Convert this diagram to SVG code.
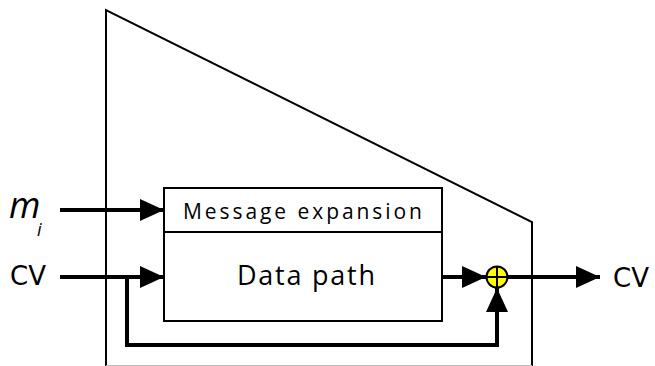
<svg xmlns="http://www.w3.org/2000/svg" width="655" height="366" viewBox="0 0 655 366">
  <style>
    .outline { fill: none; stroke: #000; stroke-width: 2; }
    .box { fill: #fff; stroke: #000; stroke-width: 2; }
    .wire { fill: none; stroke: #000; stroke-width: 4; }
    .lbl { font-family: "Open Sans", "DejaVu Sans", sans-serif; fill: #000; }
    .io { font-family: "DejaVu Sans", "Open Sans", sans-serif; fill: #000; }
  </style>
  <defs>
    <marker id="arrow" viewBox="0 0 10 10" refX="10" refY="5" markerWidth="6" markerHeight="5.5" markerUnits="strokeWidth" orient="auto" preserveAspectRatio="none">
      <path d="M0,0 L10,5 L0,10 Z" fill="#000"/>
    </marker>
  </defs>

  <!-- enclosing trapezoid -->
  <g id="enclosure">
    <polyline class="outline" points="106,366 106,10 532,222 532,366"/>
    <line x1="106" y1="365.5" x2="532" y2="365.5" stroke="#bbb" stroke-width="1"/>
  </g>

  <!-- input labels -->
  <g id="in-m">
    <text class="lbl" x="9" y="218" font-size="36" font-style="italic">m</text>
    <text class="lbl" x="37" y="236" font-size="18" font-style="italic">i</text>
  </g>
  <g id="in-cv">
    <text class="io" x="10" y="285" font-size="26">CV</text>
  </g>

  <!-- main block -->
  <g id="block">
    <rect class="box" x="164" y="188" width="278" height="133"/>
    <line x1="164" y1="232" x2="442" y2="232" stroke="#000" stroke-width="2"/>
    <text class="lbl" x="183" y="219" font-size="21" textLength="239" lengthAdjust="spacing">Message expansion</text>
    <text class="lbl" x="237" y="285" font-size="27" textLength="138" lengthAdjust="spacing">Data path</text>
  </g>

  <!-- XOR -->
  <g id="xor">
    <circle cx="497" cy="277" r="10.5" fill="#ffff00" stroke="#000" stroke-width="2"/>
    <line x1="486.5" y1="277" x2="507.5" y2="277" stroke="#000" stroke-width="2"/>
    <line x1="497" y1="266.5" x2="497" y2="287.5" stroke="#000" stroke-width="2"/>
  </g>

  <!-- output label -->
  <g id="out-cv">
    <text class="io" x="613" y="287" font-size="26">CV</text>
  </g>

  <!-- connectors -->
  <g id="connectors">
    <line class="wire" x1="60" y1="210" x2="164" y2="210" marker-end="url(#arrow)"/>
    <line class="wire" x1="60" y1="277" x2="164" y2="277" marker-end="url(#arrow)"/>
    <polyline class="wire" points="127,277 127,345 497,345 497,288" marker-end="url(#arrow)"/>
    <line class="wire" x1="442" y1="277" x2="486" y2="277" marker-end="url(#arrow)"/>
    <line class="wire" x1="508" y1="277" x2="600" y2="277" marker-end="url(#arrow)"/>
  </g>
</svg>
